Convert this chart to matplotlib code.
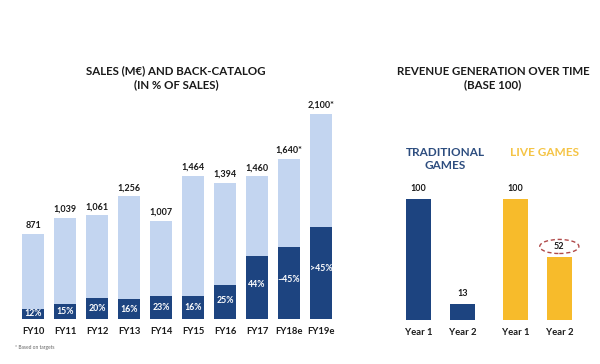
import matplotlib
matplotlib.use("Agg")
import matplotlib.pyplot as plt
from matplotlib.patches import Ellipse

plt.rcParams['font.family'] = ['Lato', 'DejaVu Sans']

# left chart: sales and back-catalog share
years = ['FY10', 'FY11', 'FY12', 'FY13', 'FY14', 'FY15', 'FY16', 'FY17', 'FY18e', 'FY19e']
sales = [871, 1039, 1061, 1256, 1007, 1464, 1394, 1460, 1640, 2100]
sales_labels = ['871', '1,039', '1,061', '1,256', '1,007', '1,464', '1,394', '1,460', '1,640*', '2,100*']
back_pct = [12, 15, 20, 16, 23, 16, 25, 44, 45, 45]
pct_labels = ['12%', '15%', '20%', '16%', '23%', '16%', '25%', '44%', '~45%', '>45%']

# right chart: revenue base 100
rev_labels = ['Year 1', 'Year 2', 'Year 1', 'Year 2']
rev_values = [100, 13, 100, 52]

light = '#c3d5f0'
dark = '#1d4480'
gold = '#f7bb2b'
txt = '#1a1a1a'

fig = plt.figure(figsize=(6, 3.64), dpi=100)
W, H = 600, 364

def px_axes(x0, x1, ytop, ybot):
    return fig.add_axes([x0 / W, 1 - ybot / H, (x1 - x0) / W, (ybot - ytop) / H])

# ---- left
ax = px_axes(10, 345, 100, 319)
xs = list(range(len(years)))
back = [s * p / 100 for s, p in zip(sales, back_pct)]
ax.bar(xs, sales, width=0.66, color=light)
ax.bar(xs, back, width=0.66, color=dark)
for x, s, lab in zip(xs, sales, sales_labels):
    ax.text(x, s + 40, lab, ha='center', va='bottom', fontsize=6.5, fontweight='bold', color=txt)
for x, b, lab in zip(xs, back, pct_labels):
    ax.text(x, b / 2 if b < 300 else b * 0.55, lab, ha='center', va='center',
            fontsize=6.3, fontweight='bold', color='white')
ax.set_xlim(-0.72, 9.75)
ax.set_ylim(0, 2242)
ax.set_xticks(xs)
ax.set_xticklabels(years, fontsize=6.8, fontweight='bold', color=txt)
ax.tick_params(length=0, pad=6)
ax.set_yticks([])
for sp in ax.spines.values():
    sp.set_visible(False)

fig.text(176 / W, 1 - 78 / H, 'SALES (M€) AND BACK-CATALOG\n(IN % OF SALES)', ha='center',
         va='center', fontsize=8.3, fontweight='bold', color=txt, linespacing=1.3)
fig.text(15 / W, 1 - 348 / H, '* Based on targets', fontsize=3.5, color='#666666', va='center')

# ---- right
ax2 = px_axes(360, 600, 100, 320)
pos = [0, 1, 2.2, 3.2]
cols = [dark, dark, gold, gold]
ax2.bar(pos, rev_values, width=0.57, color=cols)
for p, v in zip(pos, rev_values):
    ax2.text(p, v + 5, str(v), ha='center', va='bottom', fontsize=6.5, fontweight='bold', color=txt)
ax2.add_patch(Ellipse((pos[3], rev_values[3] + 9), 0.89, 11.7, fill=False,
                      edgecolor='#b04a4a', linestyle=(0, (3, 2)), linewidth=1))
ax2.set_xlim(-1.33, 4.125)
ax2.set_ylim(0, 182.5)
ax2.set_xticks(pos)
ax2.set_xticklabels(rev_labels, fontsize=6.8, fontweight='bold', color=txt)
ax2.tick_params(length=0, pad=6)
ax2.set_yticks([])
for sp in ax2.spines.values():
    sp.set_visible(False)

fig.text(493 / W, 1 - 78 / H, 'REVENUE GENERATION OVER TIME\n(BASE 100)', ha='center',
         va='center', fontsize=8.3, fontweight='bold', color=txt, linespacing=1.3)
fig.text(445 / W, 1 - 159 / H, 'TRADITIONAL\nGAMES', ha='center', va='center', fontsize=8.5,
         fontweight='bold', color='#2d4d7f', linespacing=1.3)
fig.text(545 / W, 1 - 152 / H, 'LIVE GAMES', ha='center', va='center', fontsize=8.5,
         fontweight='bold', color='#f5c445')

fig.savefig('out.png', dpi=100, facecolor='white')
